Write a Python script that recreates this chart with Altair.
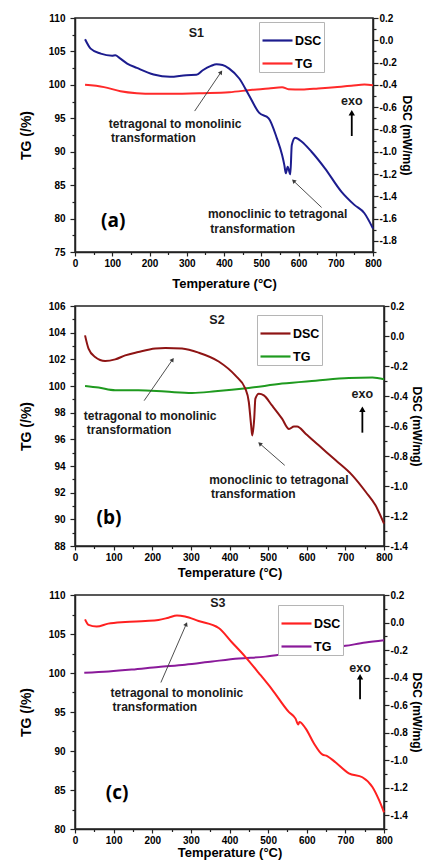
import math
import altair as alt
import pandas as pd

# ---------------- Panel (a) : S1 ----------------
s1_dsc_temp = [27, 42, 69, 100, 108, 120, 140, 166, 211, 255, 299, 326, 343, 365, 380, 396, 414, 441, 467, 494,
               520, 542, 556, 562, 566, 571, 578, 582, 591, 609, 635, 671, 715, 750, 777, 800]
s1_dsc_val = [0.009, -0.075, -0.12, -0.138, -0.135, -0.16, -0.209, -0.248, -0.307, -0.328, -0.313, -0.31, -0.269,
              -0.23, -0.215, -0.221, -0.254, -0.343, -0.493, -0.65, -0.70, -0.88, -1.03, -1.12, -1.194, -1.134,
              -1.203, -0.94, -0.874, -0.91, -1.0, -1.149, -1.358, -1.477, -1.552, -1.69]
s1_tg_temp = [27, 78, 122, 166, 211, 255, 343, 414, 476, 520, 556, 573, 609, 653, 697, 742, 777, 800]
s1_tg_val = [100.0, 99.66, 99.06, 98.76, 98.66, 98.66, 98.76, 98.9, 99.26, 99.46, 99.66, 99.36, 99.3, 99.46,
             99.66, 99.85, 100.05, 99.95]
s1_note_text = ["tetragonal to monolinic", "transformation", "monoclinic to tetragonal", "transformation", "S1", "exo"]
s1_note_temp = [268.6, 210.6, 543.8, 477.0, 325.7, 743.0]
s1_note_tg = [94.09, 92.0, 80.66, 78.37, 107.76, 97.57]
s1_note_size = [12, 12, 12, 12, 12.5, 12.5]
s1_tag = ["(a)", 102.7, 79.67]
s1_arrow_from_temp = [321.2, 662.0]
s1_arrow_from_tg = [96.08, 81.66]
s1_arrow_to_temp = [392.0, 586.7]
s1_arrow_to_tg = [101.9, 85.63]
s1_exo_arrow = [743.0, 92.35, 95.83]

# ---------------- Panel (b) : S2 ----------------
s2_dsc_temp = [26, 35, 52, 78, 104, 130, 164, 208, 234, 277, 320, 372, 415, 441, 450, 456, 459, 464, 467, 476,
               489, 510, 536, 554, 567, 575, 597, 631, 675, 718, 753, 778, 800]
s2_dsc_val = [0.004, -0.084, -0.14, -0.167, -0.156, -0.129, -0.107, -0.084, -0.08, -0.084, -0.111, -0.17, -0.263,
              -0.351, -0.44, -0.596, -0.663, -0.551, -0.418, -0.385, -0.396, -0.463, -0.551, -0.62, -0.603, -0.603,
              -0.651, -0.729, -0.829, -0.929, -1.04, -1.129, -1.251]
s2_tg_temp = [26, 61, 104, 164, 234, 303, 363, 450, 536, 623, 709, 770, 800]
s2_tg_val = [100.0, 99.88, 99.68, 99.68, 99.58, 99.48, 99.6, 99.85, 100.18, 100.4, 100.6, 100.63, 100.5]
s2_note_text = ["tetragonal to monolinic", "transformation", "monoclinic to tetragonal", "transformation", "S2", "exo"]
s2_note_temp = [194.6, 140.0, 527.7, 461.5, 367.6, 744.0]
s2_note_tg = [97.73, 96.68, 92.93, 91.88, 104.93, 99.43]
s2_note_size = [12, 12, 12, 12, 12.5, 12.5]
s2_tag = ["(b)", 88.0, 90.1]
s2_arrow_from_temp = [179.0, 543.0]
s2_arrow_from_tg = [98.9, 94.05]
s2_arrow_to_temp = [252.6, 478.4]
s2_arrow_to_tg = [101.98, 95.68]
s2_exo_arrow = [744.0, 96.5, 98.25]

# ---------------- Panel (c) : S3 ----------------
s3_dsc_temp = [26, 35, 56, 86, 130, 182, 216, 242, 264, 285, 320, 372, 406, 441, 476, 510, 554, 571, 578, 581,
               597, 618, 640, 653, 675, 709, 744, 770, 787, 800]
s3_dsc_val = [0.023, -0.017, -0.029, -0.008, 0.004, 0.011, 0.018, 0.035, 0.051, 0.044, 0.011, -0.04, -0.143,
              -0.249, -0.367, -0.485, -0.651, -0.698, -0.741, -0.722, -0.769, -0.875, -0.958, -0.970, -1.017,
              -1.095, -1.124, -1.195, -1.289, -1.379]
s3_tg_temp = [24, 87, 147, 216, 285, 355, 424, 493, 562, 631, 700, 752, 800]
s3_tg_val = [100.03, 100.2, 100.44, 100.78, 101.07, 101.48, 101.86, 102.1, 102.6, 103.0, 103.48, 103.9, 104.2]
s3_note_text = ["tetragonal to monolinic", "transformation", "S3", "exo"]
s3_note_temp = [263.8, 206.7, 370.0, 737.9]
s3_note_tg = [97.45, 95.58, 108.96, 100.65]
s3_note_size = [12, 12, 12.5, 12.5]
s3_tag = ["(c)", 109.0, 84.66]
s3_arrow_from_temp = [222.3]
s3_arrow_from_tg = [98.78]
s3_arrow_to_temp = [288.0]
s3_arrow_to_tg = [106.26]
s3_exo_arrow = [738.0, 96.62, 99.53]

x_ticks = list(range(0, 801, 50))
FONT = "Liberation Sans"


def head_angle(t0, v0, t1, v1, width, height, dom):
    dx = (t1 - t0) * width / 800.0
    dy = -(v1 - v0) * height / (dom[1] - dom[0])
    return math.degrees(math.atan2(dx, -dy)) % 360


def build_panel(dsc_t, dsc_v, tg_t, tg_v, tg_dom, tg_step, tg_label_mod, dsc_dom, width, height,
                c_dsc, c_tg, legend_xy, note_text, note_t, note_v, note_size, tag,
                a_t0, a_v0, a_t1, a_v1, exo, right_title_pad, x_title_pad):
    xs = alt.Scale(domain=[0, 800], nice=False, zero=False)
    ys = alt.Scale(domain=tg_dom, nice=False, zero=False)
    ds = alt.Scale(domain=dsc_dom, nice=False, zero=False)
    col_scale = alt.Scale(domain=["DSC", "TG"], range=[c_dsc, c_tg])
    legend = alt.Legend(orient="none", legendX=legend_xy[0], legendY=legend_xy[1], title=None,
                        symbolType="stroke", symbolSize=900, symbolStrokeWidth=2.2,
                        labelFont=FONT, labelFontSize=12.5, labelFontWeight="bold", labelColor="black",
                        strokeColor="#b5b5b5", fillColor="white", padding=2, rowPadding=-5, labelOffset=1)

    n_tg = int(round((tg_dom[1] - tg_dom[0]) / tg_step))
    tg_vals = [tg_dom[0] + tg_step * i for i in range(n_tg + 1)]
    n_d = int(round((dsc_dom[1] - dsc_dom[0]) / 0.1))
    d_vals = [round(dsc_dom[0] + 0.1 * i, 1) + 0.0 for i in range(n_d + 1)]

    x_axis = alt.Axis(orient="bottom", values=x_ticks, title="Temperature (°C)", titleFontSize=13,
                      titlePadding=x_title_pad,
                      labelExpr="datum.value % 100 == 0 ? datum.label : ''",
                      tickSize={"condition": {"test": "datum.value % 100 == 0", "value": 4}, "value": 2.5},
                      labelPadding=2, labelFlush=False, labelOverlap=False)
    left_test = f"datum.value % {tg_label_mod} == 0"
    left_axis = alt.Axis(orient="left", values=tg_vals, title="TG (/%)", titleFontSize=14,
                         titlePadding=15,
                         labelExpr=f"{left_test} ? datum.label : ''",
                         tickSize={"condition": {"test": left_test, "value": 5}, "value": 3},
                         labelPadding=5, labelOverlap=False, labelFlush=False)
    right_test = "abs(round(datum.value * 10)) % 2 == 0"
    right_axis = alt.Axis(orient="right", values=d_vals, title="DSC (mW/mg)", titleFontSize=12,
                          titlePadding=right_title_pad,
                          labelExpr=f"{right_test} ? replace(format(datum.value, '.1f'), '−', '-') : ''",
                          tickSize={"condition": {"test": right_test, "value": 5}, "value": 3},
                          labelPadding=1, labelOverlap=False, labelFlush=False)

    tg_df = pd.DataFrame({"T": tg_t, "v": tg_v, "s": "TG"})
    dsc_df = pd.DataFrame({"T": dsc_t, "v": dsc_v, "s": "DSC"})

    tg_line = alt.Chart(tg_df).mark_line(strokeWidth=2, interpolate="monotone").encode(
        x=alt.X("T:Q", scale=xs, axis=x_axis),
        y=alt.Y("v:Q", scale=ys, axis=left_axis),
        color=alt.Color("s:N", scale=col_scale, legend=legend),
    )
    dsc_line = alt.Chart(dsc_df).mark_line(strokeWidth=2, interpolate="monotone").encode(
        x=alt.X("T:Q", scale=xs, axis=None),
        y=alt.Y("v:Q", scale=ds, axis=right_axis),
        color=alt.Color("s:N", scale=col_scale, legend=legend),
    )

    notes_df = pd.DataFrame({"T": note_t, "v": note_v, "label": note_text, "fs": note_size})
    notes = alt.Chart(notes_df).mark_text(font=FONT, fontWeight="bold", color="#1a1a1a",
                                          align="center", baseline="middle").encode(
        x=alt.X("T:Q", scale=xs, axis=None),
        y=alt.Y("v:Q", scale=ys, axis=None),
        text="label:N",
        size=alt.Size("fs:Q", scale=None),
    )
    tag_df = pd.DataFrame({"T": [tag[1]], "v": [tag[2]], "label": [tag[0]]})
    tag_mark = alt.Chart(tag_df).mark_text(font="Open Sans", fontWeight="bold", fontSize=19, color="black",
                                           align="center", baseline="middle").encode(
        x=alt.X("T:Q", scale=xs, axis=None),
        y=alt.Y("v:Q", scale=ys, axis=None),
        text="label:N",
    )

    arr_df = pd.DataFrame({"T0": a_t0, "v0": a_v0, "T1": a_t1, "v1": a_v1})
    arr_df["ang"] = [head_angle(a, b, c, d, width, height, tg_dom) for a, b, c, d in zip(a_t0, a_v0, a_t1, a_v1)]
    arr_rule = alt.Chart(arr_df).mark_rule(color="#3a3a3a", strokeWidth=0.9).encode(
        x=alt.X("T0:Q", scale=xs, axis=None), y=alt.Y("v0:Q", scale=ys, axis=None),
        x2="T1:Q", y2="v1:Q",
    )
    arr_head = alt.Chart(arr_df).mark_point(shape="triangle-up", filled=True, size=22, color="#3a3a3a",
                                            opacity=1).encode(
        x=alt.X("T1:Q", scale=xs, axis=None), y=alt.Y("v1:Q", scale=ys, axis=None),
        angle=alt.Angle("ang:Q", scale=None),
    )
    exo_df = pd.DataFrame({"T": [exo[0]], "v0": [exo[1]], "v1": [exo[2]]})
    exo_rule = alt.Chart(exo_df).mark_rule(color="black", strokeWidth=1.8).encode(
        x=alt.X("T:Q", scale=xs, axis=None), y=alt.Y("v0:Q", scale=ys, axis=None), y2="v1:Q",
    )
    exo_head = alt.Chart(exo_df).mark_point(shape="triangle-up", filled=True, size=40, color="black",
                                            opacity=1).encode(
        x=alt.X("T:Q", scale=xs, axis=None), y=alt.Y("v1:Q", scale=ys, axis=None),
    )

    return alt.layer(tg_line, notes, tag_mark, arr_rule, arr_head, exo_rule, exo_head, dsc_line).resolve_scale(
        y="independent"
    ).resolve_axis(x="independent").properties(width=width, height=height)


p1 = build_panel(s1_dsc_temp, s1_dsc_val, s1_tg_temp, s1_tg_val, [75, 110], 2.5, 5, [-1.9, 0.2], 298, 234,
                 "#1c1c8e", "#ff2a2a", (184, 4), s1_note_text, s1_note_temp, s1_note_tg, s1_note_size, s1_tag,
                 s1_arrow_from_temp, s1_arrow_from_tg, s1_arrow_to_temp, s1_arrow_to_tg, s1_exo_arrow,
                 3, 9)
p2 = build_panel(s2_dsc_temp, s2_dsc_val, s2_tg_temp, s2_tg_val, [88, 106], 1, 2, [-1.4, 0.2], 309, 240,
                 "#8e1414", "#1f9a1f", (182, 9), s2_note_text, s2_note_temp, s2_note_tg, s2_note_size, s2_tag,
                 s2_arrow_from_temp, s2_arrow_from_tg, s2_arrow_to_temp, s2_arrow_to_tg, s2_exo_arrow,
                 2, 4)
p3 = build_panel(s3_dsc_temp, s3_dsc_val, s3_tg_temp, s3_tg_val, [80, 110], 2.5, 5, [-1.5, 0.2], 309, 234,
                 "#ff2020", "#8a1a9a", (203, 10), s3_note_text, s3_note_temp, s3_note_tg, s3_note_size, s3_tag,
                 s3_arrow_from_temp, s3_arrow_from_tg, s3_arrow_to_temp, s3_arrow_to_tg, s3_exo_arrow,
                 2, 1)

chart = alt.vconcat(p1, p2, p3, spacing=9).resolve_scale(
    color="independent"
).properties(
    padding={"left": 10, "top": 4, "right": 0, "bottom": 0}
).configure_view(
    stroke="#222222", strokeWidth=1.5
).configure_axis(
    labelFont=FONT, labelFontWeight="bold", labelFontSize=10, labelColor="black",
    titleFont=FONT, titleFontWeight="bold", titleColor="black",
    domainColor="#222222", domainWidth=1.5, tickColor="#222222", tickWidth=1.2, grid=False,
)

chart.save("out.html", embed_options={"renderer": "svg", "actions": False})
